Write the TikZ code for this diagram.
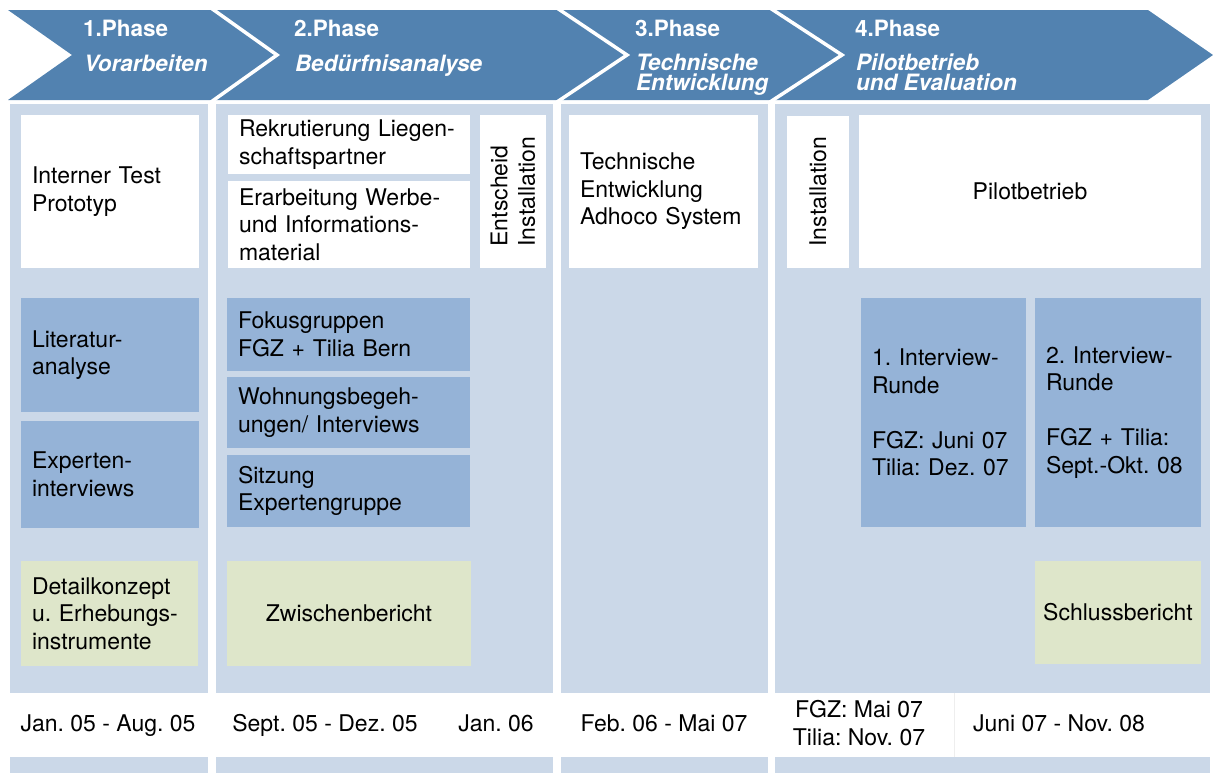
\documentclass[tikz,border=0pt]{standalone}
\usepackage{fontspec}
\setmainfont{TeX Gyre Heros}
\definecolor{arrowblue}{HTML}{5282B0}
\definecolor{colbg}{HTML}{CBD8E8}
\definecolor{boxblue}{HTML}{95B3D7}
\definecolor{boxgreen}{HTML}{DEE6CA}
\definecolor{faint}{HTML}{EEEEEE}
\begin{document}
\frenchspacing
\begin{tikzpicture}[x=1pt,y=-1pt,
  every node/.style={inner sep=0pt, outer sep=0pt},
  bodyfont/.style={font=\fontsize{23}{27.5}\selectfont\frenchspacing},
  colnode/.style={fill=colbg, anchor=north west},
  boxbase/.style={bodyfont, anchor=north west, inner xsep=11pt, align=left},
  wbox/.style={boxbase, fill=white},
  bbox/.style={boxbase, fill=boxblue},
  gbox/.style={boxbase, fill=boxgreen},
  hdr/.style={text=white, anchor=base west, font=\fontsize{22.5}{18}\selectfont\bfseries},
  hsub/.style={text=white, anchor=base west, align=left, font=\fontsize{22.5}{20}\selectfont\bfseries\itshape},
  datefont/.style={bodyfont, align=center, anchor=base}
]
\useasboundingbox (0,0) rectangle (1213,772);

% phase band
\fill[arrowblue] (8,10) -- (1148,10) -- (1213,55) -- (1148,100) -- (8,100) -- (72,55) -- cycle;
\draw[white, line width=3.5pt, line join=miter] (211,8) -- (277,55) -- (211,102);
\draw[white, line width=3.5pt, line join=miter] (557,8) -- (627,55) -- (557,102);
\draw[white, line width=3.5pt, line join=miter] (770,8) -- (842,55) -- (770,102);

\node[hdr] (p1) at (83,36) {1.Phase};
\node[hsub] (s1) at (84,71) {Vorarbeiten};
\node[hdr] (p2) at (294,36) {2.Phase};
\node[hsub] (s2) at (295,71) {Bedürfnisanalyse};
\node[hdr] (p3) at (635,36) {3.Phase};
\node[hsub] (s3) at (636,90.5) {Technische\\Entwicklung};
\node[hdr] (p4) at (855,36) {4.Phase};
\node[hsub] (s4) at (856,90.5) {Pilotbetrieb\\und Evaluation};

% columns
\node[colnode, minimum width=198pt, minimum height=589pt] (c1) at (10,104) {};
\node[colnode, minimum width=337pt, minimum height=589pt] (c2) at (216,104) {};
\node[colnode, minimum width=207pt, minimum height=589pt] (c3) at (561,104) {};
\node[colnode, minimum width=435pt, minimum height=589pt] (c4) at (775,104) {};
% bottom strip
\node[colnode, minimum width=198pt, minimum height=20pt] (d1) at (10,757) {};
\node[colnode, minimum width=337pt, minimum height=20pt] (d2) at (216,757) {};
\node[colnode, minimum width=207pt, minimum height=20pt] (d3) at (561,757) {};
\node[colnode, minimum width=435pt, minimum height=20pt] (d4) at (775,757) {};
\coordinate (sepT) at (954,693);
\coordinate (sepB) at (954,757);
\draw[faint, line width=0.8pt] (sepT) -- (sepB);

% column 1
\node[wbox, minimum width=178pt, minimum height=153pt, text width=156pt] (b11) at (21,115) {Interner Test\\Prototyp};
\node[bbox, minimum width=178pt, minimum height=114pt, text width=156pt] (b12) at (21,298) {Literatur-\\analyse};
\node[bbox, minimum width=178pt, minimum height=107pt, text width=156pt] (b13) at (21,421) {Experten-\\interviews};
\node[gbox, minimum width=177pt, minimum height=105pt, text width=155pt] (b14) at (21,561) {Detailkonzept\\u. Erhebungs-\\instrumente};

% column 2
\node[wbox, minimum width=242pt, minimum height=59pt, text width=220pt] (b21) at (228,115) {Rekrutierung Liegen-\\schaftspartner};
\node[wbox, minimum width=242pt, minimum height=87pt, text width=220pt] (b22) at (228,181) {Erarbeitung Werbe-\\und Informations-\\material};
\node[bodyfont, fill=white, rotate=90, align=left, minimum width=153pt, minimum height=66pt] (b23) at (513,191.5) {Entscheid\\Installation};
\node[bbox, minimum width=243pt, minimum height=73pt, text width=221pt] (b24) at (227,298) {Fokusgruppen\\FGZ + Tilia Bern};
\node[bbox, minimum width=243pt, minimum height=71pt, text width=221pt] (b25) at (227,377) {Wohnungsbegeh-\\ungen/ Interviews};
\node[bbox, minimum width=243pt, minimum height=72pt, text width=221pt] (b26) at (227,455) {Sitzung\\Expertengruppe};
\node[gbox, align=center, minimum width=244pt, minimum height=105pt, text width=222pt] (b27) at (227,561) {Zwischenbericht};

% column 3
\node[wbox, minimum width=189pt, minimum height=153pt, text width=167pt] (b31) at (569,115) {Technische\\Entwicklung\\Adhoco System};

% column 4
\node[bodyfont, fill=white, rotate=90, align=left, minimum width=152pt, minimum height=62pt] (b41) at (818,191.5) {Installation};
\node[wbox, align=center, minimum width=342pt, minimum height=153pt, text width=320pt] (b42) at (859,115) {Pilotbetrieb};
\node[bbox, minimum width=165pt, minimum height=229pt, text width=143pt] (b43) at (861,298) {1. Interview-\\Runde\\[27.5pt]FGZ: Juni 07\\Tilia: Dez. 07};
\node[bbox, minimum width=166pt, minimum height=229pt, text width=144pt] (b44) at (1035,298) {2. Interview-\\Runde\\[27.5pt]FGZ + Tilia:\\Sept.-Okt. 08};
\node[gbox, align=center, minimum width=166pt, minimum height=103pt, text width=150pt, inner xsep=8pt] (b45) at (1035,561) {Schlussbericht};

% dates
\node[datefont] (t1) at (108,731) {Jan. 05 - Aug. 05};
\node[datefont] (t2) at (325,731) {Sept. 05 - Dez. 05};
\node[datefont] (t3) at (496,731) {Jan. 06};
\node[datefont] (t4) at (664,731) {Feb. 06 - Mai 07};
\node[datefont, font=\fontsize{23}{28}\selectfont\frenchspacing] (t5) at (859,745) {FGZ: Mai 07\\Tilia: Nov. 07};
\node[datefont] (t6) at (1059,731) {Juni 07 - Nov. 08};
\end{tikzpicture}
\end{document}
